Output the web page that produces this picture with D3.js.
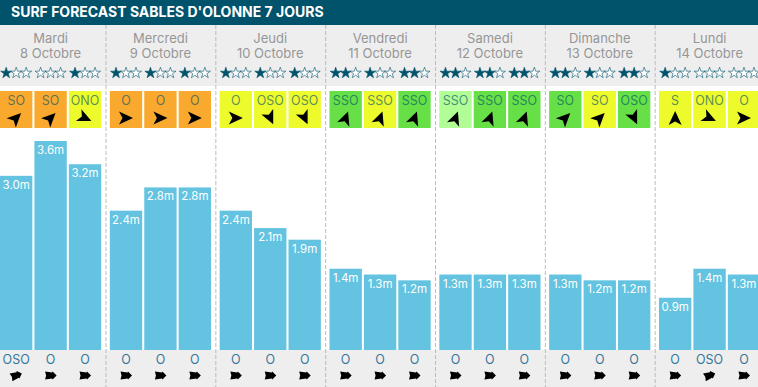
<!DOCTYPE html>
<html>
<head>
<meta charset="utf-8">
<script src="https://cdn.jsdelivr.net/npm/d3@7/dist/d3.min.js"></script>
<style>
html, body { margin: 0; padding: 0; background: #fff; }
svg { display: block; font-family: "Inter", "Open Sans", sans-serif; }
</style>
</head>
<body>
<svg id="forecast" width="758" height="387"></svg>
<script>
const title = "SURF FORECAST SABLES D'OLONNE 7 JOURS";
const days = ["Mardi", "Mercredi", "Jeudi", "Vendredi", "Samedi", "Dimanche", "Lundi"];
const dates = ["8 Octobre", "9 Octobre", "10 Octobre", "11 Octobre", "12 Octobre", "13 Octobre", "14 Octobre"];
const heights = [
    [3.0, 3.6, 3.2], [2.4, 2.8, 2.8], [2.4, 2.1, 1.9], [1.4, 1.3, 1.2],
    [1.3, 1.3, 1.3], [1.3, 1.2, 1.2], [0.9, 1.4, 1.3]
];
const ratings = [[1, 0, 1], [1, 1, 1], [1, 1, 1], [2, 1, 2], [2, 2, 2], [2, 1, 2], [1, 0, 0]];
const winds = [
    ["SO", "SO", "ONO"], ["O", "O", "O"], ["O", "OSO", "OSO"], ["SSO", "SSO", "SSO"],
    ["SSO", "SSO", "SSO"], ["SO", "SO", "OSO"], ["S", "ONO", "O"]
];
const windQuality = [
    ["bad", "bad", "fair"], ["bad", "bad", "bad"], ["fair", "fair", "fair"], ["good", "fair", "good"],
    ["best", "good", "good"], ["good", "fair", "good"], ["fair", "fair", "fair"]
];
const swells = [
    ["OSO", "O", "O"], ["O", "O", "O"], ["O", "O", "O"], ["O", "O", "O"],
    ["O", "O", "O"], ["O", "O", "O"], ["O", "OSO", "O"]
];

const qualityColor = {bad: "#f9a92d", fair: "#edfa2b", good: "#66e046", best: "#b1fd96"};
const windAngle = {O: 0, SO: -45, SSO: -70, S: -90, ONO: 25, OSO: 65};
const swellAngle = {O: 0, OSO: -20};
const dark = "#00536b";

const svg = d3.select("#forecast"),
    width = +svg.attr("width"),
    height = +svg.attr("height");

const x = d3.scaleBand().domain(d3.range(7)).range([-4.3, 764.5]);
const slot = d3.scaleBand().domain(d3.range(3)).range([4.3, 105.5]).paddingInner(0.06);
const y = d3.scaleLinear().domain([0, 3.6]).range([350, 141]);

// backgrounds
svg.append("rect").attr("width", width).attr("height", 25).attr("fill", dark);
svg.append("rect").attr("y", 25).attr("width", width).attr("height", 61).attr("fill", "#eeeeee");
svg.append("rect").attr("y", 350).attr("width", width).attr("height", 37).attr("fill", "#eeeeee");

svg.append("text")
    .attr("x", 11).attr("y", 17)
    .attr("fill", "#fff").attr("font-size", 14).attr("font-weight", 700)
    .text(title);

// dashed separators
svg.selectAll(".sep")
    .data(d3.range(1, 7))
    .enter().append("line")
    .attr("class", "sep")
    .attr("x1", d => x(d) + 0.5).attr("x2", d => x(d) + 0.5)
    .attr("y1", 25).attr("y2", height)
    .attr("stroke", "#bbb").attr("stroke-dasharray", "4 2");

const star = d3.symbol().type(d3.symbolStar).size(38);
const windArrow = "M7,0 L-7,-6.5 L-3.5,0 L-7,6.5 Z";
const swellArrow = "M6,0 L2,-4 L1.5,-3 L-5.5,-4 L-4.5,0 L-5.5,4 L1.5,3 L2,4 Z";

const day = svg.selectAll(".day")
    .data(days)
    .enter().append("g")
    .attr("class", "day")
    .attr("transform", (d, i) => `translate(${x(i)},0)`);

day.append("text")
    .attr("y", 43)
    .attr("dx", x.bandwidth() / 2)
    .attr("text-anchor", "middle")
    .attr("fill", "#969696").attr("font-size", 13)
    .text(d => d);

day.append("text")
    .attr("y", 58)
    .attr("dx", x.bandwidth() / 2)
    .attr("text-anchor", "middle")
    .attr("fill", "#969696").attr("font-size", 13)
    .text((d, i) => dates[i]);

day.each(function(name, i) {
    const g = d3.select(this);
    d3.range(3).forEach(j => {
        const cx = slot(j) + slot.bandwidth() / 2;

        // stars
        d3.range(3).forEach(k => {
            g.append("path")
                .attr("d", star)
                .attr("transform", `translate(${cx + (k - 1) * 10},73)`)
                .attr("fill", k < ratings[i][j] ? dark : "#fff")
                .attr("stroke", dark).attr("stroke-width", 0.6);
        });

        // wind cell
        g.append("rect")
            .attr("x", slot(j)).attr("y", 91)
            .attr("width", slot.bandwidth()).attr("height", 37)
            .attr("fill", qualityColor[windQuality[i][j]]);
        g.append("text")
            .attr("x", cx).attr("y", 105)
            .attr("text-anchor", "middle")
            .attr("fill", dark).attr("fill-opacity", 0.65).attr("font-size", 12.5)
            .text(winds[i][j]);
        g.append("path")
            .attr("d", windArrow)
            .attr("transform", `translate(${cx},118) rotate(${windAngle[winds[i][j]]})`)
            .attr("fill", "#000");

        // wave bar
        g.append("rect")
            .attr("x", slot(j)).attr("y", y(heights[i][j]))
            .attr("width", slot.bandwidth()).attr("height", y(0) - y(heights[i][j]))
            .attr("fill", "#63c3e0");
        g.append("text")
            .attr("x", cx).attr("y", y(heights[i][j]) + 13)
            .attr("text-anchor", "middle")
            .attr("fill", "#fff").attr("font-size", 11.5)
            .text(heights[i][j].toFixed(1) + "m");

        // swell direction
        g.append("text")
            .attr("x", cx).attr("y", 364)
            .attr("text-anchor", "middle")
            .attr("fill", "#35779a").attr("font-size", 12.5)
            .text(swells[i][j]);
        g.append("path")
            .attr("d", swellArrow)
            .attr("transform", `translate(${cx},375.5) rotate(${swellAngle[swells[i][j]]})`)
            .attr("fill", "#000");
    });
});
</script>
</body>
</html>
